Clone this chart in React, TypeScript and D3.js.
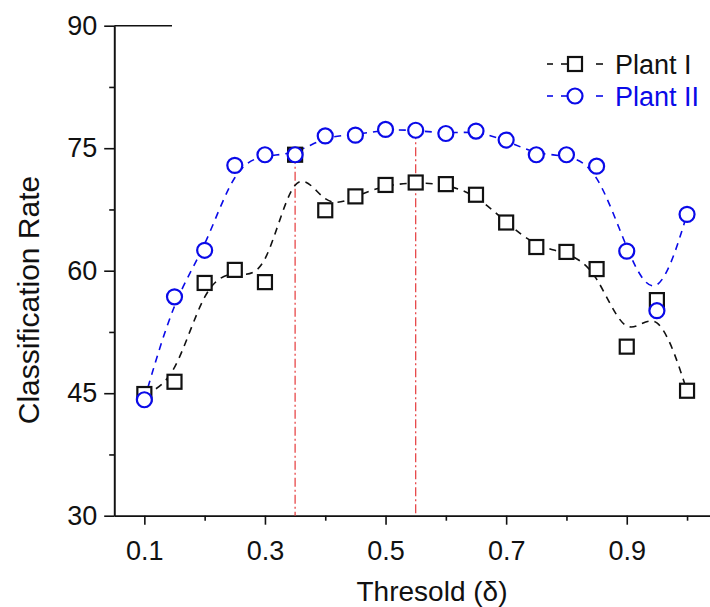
import React, { useEffect, useRef } from "react";
import * as d3 from "d3";

// threshold values (x) and classification rates
const thresholds = [0.1, 0.15, 0.2, 0.25, 0.3, 0.35, 0.4, 0.45, 0.5, 0.55, 0.6, 0.65, 0.7, 0.75, 0.8, 0.85, 0.9, 0.95, 1.0];
const plantI = [44.9, 46.4, 58.5, 60.1, 58.6, 74.2, 67.4, 69.1, 70.5, 70.8, 70.6, 69.3, 65.9, 62.9, 62.3, 60.2, 50.7, 56.4, 45.3];
const plantII = [44.2, 56.8, 62.5, 72.9, 74.2, 74.2, 76.5, 76.6, 77.3, 77.2, 76.8, 77.1, 76.0, 74.2, 74.2, 72.8, 62.4, 55.1, 66.9];

// thresholds marked with the red dash-dot lines
const markedThresholds = [0.35, 0.55];

const xMajor = [0.1, 0.3, 0.5, 0.7, 0.9];
const xMinor = [0.2, 0.4, 0.6, 0.8, 1.0];
const yMajor = [30, 45, 60, 75, 90];
const yMinor = [37.5, 52.5, 67.5, 82.5];

const seriesNames = ["Plant I", "Plant II"];

const BLUE = "#0a0ae8";
const FONT = "'Liberation Sans', Arial, sans-serif";

const App = () => {
  const svgRef = useRef<SVGSVGElement>(null);

  useEffect(() => {
    const svg = d3.select(svgRef.current);
    svg.selectAll("*").remove();

    const width = 710;
    const height = 607;
    const left = 114.2;
    const top = 25.7;
    const bottom = 515.7;

    const x = d3.scaleLinear().domain([0.05, 1.05]).range([left, left + 603]);
    const y = d3.scaleLinear().domain([30, 90]).range([bottom, top]);

    svg.append("rect").attr("width", width).attr("height", height).attr("fill", "#fff");

    // axes
    const styleAxis = (g) => {
      g.select(".domain").attr("stroke", "#111").attr("stroke-width", 1.6);
      g.selectAll(".tick line").attr("stroke", "#111").attr("stroke-width", 1.6);
      g.selectAll("text")
        .attr("font-family", FONT)
        .attr("font-size", 27)
        .attr("fill", "#111");
    };

    svg
      .append("g")
      .attr("transform", `translate(0, ${bottom})`)
      .call(d3.axisBottom(x).tickValues(xMinor).tickSize(5).tickSizeOuter(0).tickFormat(() => ""))
      .call(styleAxis);
    svg
      .append("g")
      .attr("transform", `translate(0, ${bottom})`)
      .call(d3.axisBottom(x).tickValues(xMajor).tickSize(9).tickSizeOuter(0).tickPadding(16).tickFormat(d3.format(".1f")))
      .call(styleAxis);

    svg
      .append("g")
      .attr("transform", `translate(${left}, 0)`)
      .call(d3.axisLeft(y).tickValues(yMinor).tickSize(5).tickSizeOuter(0).tickFormat(() => ""))
      .call(styleAxis);
    svg
      .append("g")
      .attr("transform", `translate(${left}, 0)`)
      .call(d3.axisLeft(y).tickValues(yMajor).tickSize(10).tickSizeOuter(0).tickPadding(7))
      .call(styleAxis);

    // short stub of the top frame
    svg
      .append("line")
      .attr("x1", left)
      .attr("x2", 172)
      .attr("y1", y(90))
      .attr("y2", y(90))
      .attr("stroke", "#111")
      .attr("stroke-width", 1.6);

    // axis titles
    svg
      .append("text")
      .attr("x", 432)
      .attr("y", 601)
      .attr("text-anchor", "middle")
      .attr("font-family", FONT)
      .attr("font-size", 28)
      .attr("fill", "#111")
      .text("Thresold (δ)");

    svg
      .append("text")
      .attr("transform", "translate(39, 300) rotate(-90)")
      .attr("text-anchor", "middle")
      .attr("font-family", FONT)
      .attr("font-size", 30)
      .attr("fill", "#111")
      .text("Classification Rate");

    // red dash-dot markers
    markedThresholds.forEach((t) => {
      const i = thresholds.indexOf(t);
      svg
        .append("line")
        .attr("x1", x(t))
        .attr("x2", x(t))
        .attr("y1", y(plantII[i]))
        .attr("y2", bottom)
        .attr("stroke", "#e5393b")
        .attr("stroke-width", 1.2)
        .attr("stroke-dasharray", "9 3 2 3");
    });

    const line = d3
      .line<number>()
      .x((d, i) => x(thresholds[i]))
      .y((d) => y(d))
      .curve(d3.curveBasis);

    const series = [
      { values: plantI, color: "#111", shape: "square" },
      { values: plantII, color: BLUE, shape: "circle" },
    ];

    series.forEach((s) => {
      svg
        .append("path")
        .datum(s.values)
        .attr("fill", "none")
        .attr("stroke", s.color)
        .attr("stroke-width", 1.6)
        .attr("stroke-dasharray", "7 6")
        .attr("d", line);
    });

    const drawMarker = (g, shape, color, cx, cy) => {
      if (shape === "square") {
        g.append("rect")
          .attr("x", cx - 7)
          .attr("y", cy - 7)
          .attr("width", 14)
          .attr("height", 14)
          .attr("fill", "#fff")
          .attr("stroke", color)
          .attr("stroke-width", 2.2);
      } else {
        g.append("circle")
          .attr("cx", cx)
          .attr("cy", cy)
          .attr("r", 7.5)
          .attr("fill", "#fff")
          .attr("stroke", color)
          .attr("stroke-width", 2.2);
      }
    };

    series.forEach((s) => {
      const g = svg.append("g");
      s.values.forEach((v, i) => drawMarker(g, s.shape, s.color, x(thresholds[i]), y(v)));
    });

    // legend
    const legend = svg.append("g");
    series.forEach((s, i) => {
      const ly = 64 + i * 32;
      [
        [547, 553],
        [561, 567],
        [596, 603],
      ].forEach(([a, b]) => {
        legend
          .append("line")
          .attr("x1", a)
          .attr("x2", b)
          .attr("y1", ly)
          .attr("y2", ly)
          .attr("stroke", s.color)
          .attr("stroke-width", 1.6);
      });
      drawMarker(legend, s.shape, s.color, 575, ly);
      legend
        .append("text")
        .attr("x", 615)
        .attr("y", ly + 10)
        .attr("font-family", FONT)
        .attr("font-size", 27)
        .attr("fill", i === 0 ? "#111" : BLUE)
        .text(seriesNames[i]);
    });
  }, []);

  return (
    <svg
      ref={svgRef}
      width={710}
      height={607}
      style={{ position: "absolute", left: 0, top: 0 }}
    />
  );
};

export default App;
